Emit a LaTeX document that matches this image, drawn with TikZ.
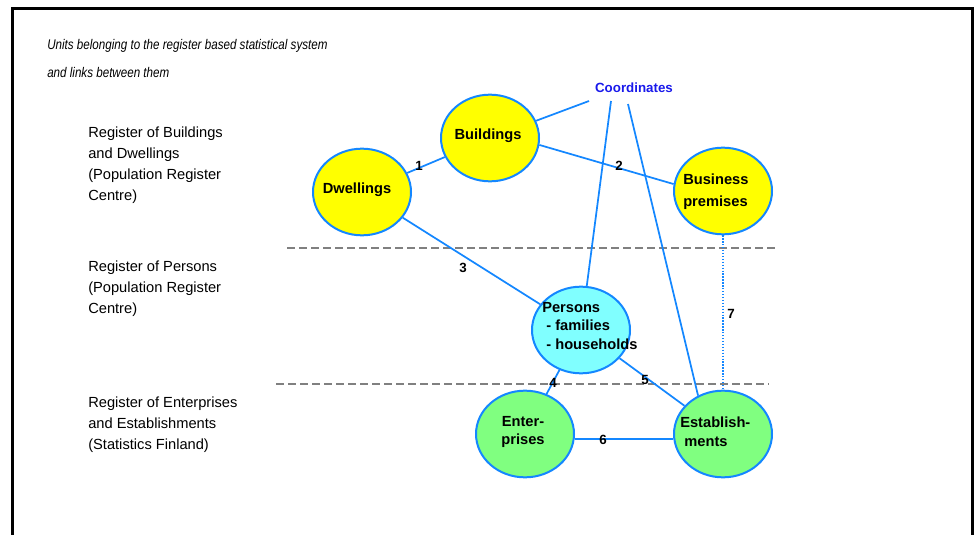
\documentclass[tikz,border=0pt]{standalone}
\usepackage{graphicx}
\usepackage{fontspec}
\setmainfont{Liberation Sans}
\usepackage{tikz}
\usetikzlibrary{shapes.geometric}
\usetikzlibrary{positioning}

\definecolor{unitline}{RGB}{20,135,255}
\definecolor{unityellow}{RGB}{255,255,0}
\definecolor{unitcyan}{RGB}{128,255,255}
\definecolor{unitgreen}{RGB}{128,255,128}
\definecolor{coordblue}{RGB}{25,25,235}
\definecolor{bordergray}{RGB}{128,128,128}

\tikzset{
	unit/.style={ellipse,draw=unitline,line width=1.5pt,inner sep=0pt,minimum width=73.5pt,minimum height=65pt},
	unittext/.style={font=\fontsize{11}{14}\selectfont\bfseries,inner sep=0pt},
	link/.style={unitline,line width=1.3pt},
	num/.style={font=\fontsize{10}{11}\selectfont\bfseries,inner sep=0pt},
	register/.style={font=\fontsize{11}{15.75}\selectfont,align=left,inner sep=0pt,anchor=north west},
	border/.style={bordergray,line width=1.5pt,dash pattern=on 6pt off 3pt}
}

\begin{document}
\begin{tikzpicture}[x=0.75pt,y=-0.75pt]
			\useasboundingbox (0,0) rectangle (978,535);
			%frame
			\draw[line width=2.25pt] (12,545)--(12,9)--(972,9)--(972,545);
			%title
			\node[anchor=base west,inner sep=0pt] (title1) at (47,50) {\scalebox{0.83}[1]{\fontsize{10.5}{12}\selectfont\itshape Units belonging to the register based statistical system}};
			\node[anchor=base west,inner sep=0pt] (title2) at (47,78) {\scalebox{0.83}[1]{\fontsize{10.5}{12}\selectfont\itshape and links between them}};
			%registers
			\node[register] (regbuild) at (88,126.5) {Register of Buildings\\and Dwellings\\(Population Register\\Centre)};
			\node[register] (regpers) at (88,260.5) {Register of Persons\\(Population Register\\Centre)};
			\node[register] (regent) at (88,396.5) {Register of Enterprises\\and Establishments\\(Statistics Finland)};
			%borders between registers
			\coordinate (b1l) at (287,248);
			\coordinate (b1r) at (778,248);
			\coordinate (b2l) at (276,384);
			\coordinate (b2r) at (769,384);
			\draw[border] (b1l)--(b1r);
			\draw[border] (b2l)--(b2r);
			%units
			\node[unit,fill=unityellow] (build) at (490,138) {};
			\node[unit,fill=unityellow] (dwell) at (362,192) {};
			\node[unit,fill=unityellow] (bus) at (723,191) {};
			\node[unit,fill=unitcyan] (pers) at (581,330) {};
			\node[unit,fill=unitgreen] (ent) at (525,434) {};
			\node[unit,fill=unitgreen] (est) at (723,434) {};
			\node[unittext] (buildtext) at (488,136) {Buildings};
			\node[unittext] (dwelltext) at (357,190) {Dwellings};
			\node[unittext,align=left,anchor=west,font=\fontsize{11}{16.5}\selectfont\bfseries] (bustext) at (683,192) {Business\\premises};
			\node[unittext,align=left,anchor=west] (perstext) at (542,326) {Persons\\\ - families\\\ - households};
			\node[unittext,align=center] (enttext) at (523,432) {Enter-\\prises};
			\node[unittext,align=left,anchor=west] (esttext) at (680,432) {Establish-\\\ ments};
			%coordinates
			\node[font=\fontsize{10}{12}\selectfont\bfseries,text=coordblue,inner sep=0pt] (coord) at (634,88) {Coordinates};
			\coordinate (c1) at (589,101);
			\coordinate (c2) at (611,101);
			\coordinate (c3) at (628,104);
			\draw[link] (c1)--(build);
			\draw[link] (c2)--(pers);
			\draw[link] (c3)--(est.123);
			%links
			\draw[link] (dwell)--(build);
			\draw[link] (build.-8)--(bus.172);
			\draw[link] (dwell)--(pers);
			\draw[link] (pers)--(ent);
			\draw[link] (pers)--(est);
			\draw[link] ([yshift=-3.75pt]ent.east)--([yshift=-3.75pt]est.west);
			\draw[link,line width=1pt,dash pattern=on 1pt off 1.2pt] (bus.south)--(est.north);
			%numbers
			\node[num] (n1) at (419,166) {1};
			\node[num] (n2) at (619,166) {2};
			\node[num] (n3) at (463,268) {3};
			\node[num] (n4) at (553,383) {4};
			\node[num] (n5) at (645,380) {5};
			\node[num] (n6) at (603,440) {6};
			\node[num] (n7) at (731,314) {7};
		\end{tikzpicture}
\end{document}
